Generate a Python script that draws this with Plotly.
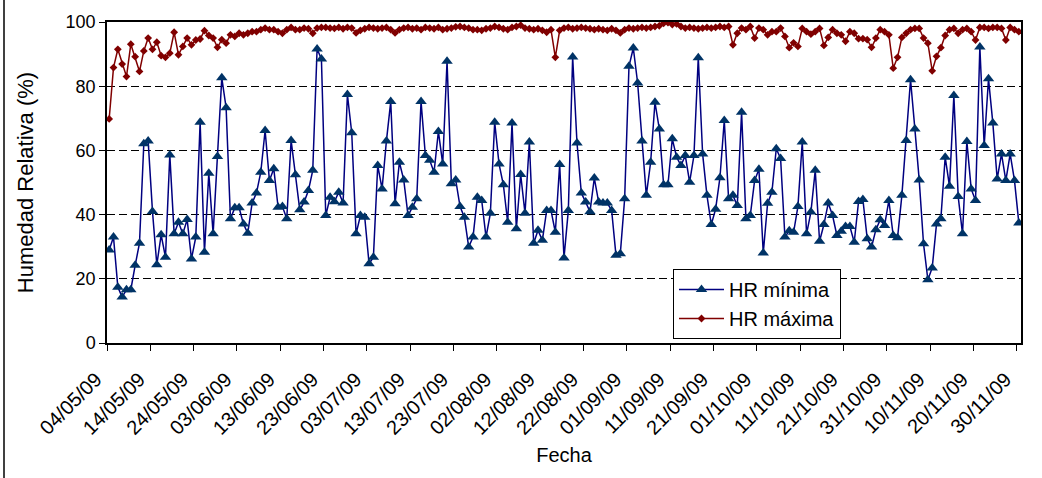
import pandas as pd
import plotly.graph_objects as go

start_date = "2009-05-04"
n_days = 211

hr_min = [
    29.0, 33.0, 17.4, 14.3, 16.6, 16.6, 24.2, 31.1, 62.1, 62.9,
    41.0, 24.4, 33.7, 26.7, 58.6, 34.0, 37.6, 34.0, 38.5, 26.2,
    33.0, 68.8, 28.3, 52.9, 34.0, 58.1, 82.6, 73.3, 38.7, 42.1,
    42.1, 37.1, 34.2, 43.6, 46.7, 53.2, 66.2, 50.6, 54.3, 42.3,
    42.5, 38.7, 63.1, 52.4, 41.5, 43.9, 47.5, 53.8, 91.6, 88.5,
    39.7, 45.4, 44.0, 47.0, 43.6, 77.4, 65.5, 34.0, 39.7, 39.2,
    24.7, 26.7, 55.3, 48.0, 62.9, 75.2, 43.4, 56.3, 50.8, 39.7,
    42.3, 44.9, 75.2, 58.4, 56.9, 53.2, 65.9, 55.8, 87.8, 49.6,
    50.8, 42.5, 39.2, 29.9, 33.0, 45.4, 44.4, 33.0, 40.4, 68.8,
    55.8, 49.3, 37.6, 68.5, 35.6, 52.5, 40.4, 62.6, 31.1, 35.1,
    32.0, 41.3, 41.3, 34.5, 55.6, 26.5, 41.3, 89.1, 62.3, 46.7,
    43.9, 40.9, 51.4, 43.9, 43.6, 43.6, 41.3, 27.3, 27.8, 44.9,
    86.2, 91.9, 81.0, 62.9, 46.0, 56.3, 75.0, 66.7, 49.3, 49.3,
    63.6, 57.9, 55.3, 58.4, 50.1, 58.4, 88.9, 58.9, 46.0, 36.9,
    41.7, 51.5, 69.3, 44.9, 46.0, 42.8, 71.9, 38.7, 39.7, 50.6,
    54.1, 28.0, 43.5, 47.0, 60.5, 57.5, 33.0, 35.0, 34.5, 42.5,
    62.6, 34.0, 40.8, 53.8, 31.7, 36.9, 43.6, 39.7, 33.5, 34.8,
    36.3, 36.3, 31.4, 44.1, 44.7, 32.5, 29.9, 35.3, 38.4, 36.6,
    44.4, 33.5, 32.8, 46.0, 63.1, 82.0, 66.7, 50.8, 30.9, 19.7,
    23.4, 37.1, 38.7, 57.9, 48.8, 77.1, 45.6, 34.0, 62.8, 48.0,
    44.4, 92.2, 61.5, 82.3, 68.5, 51.1, 58.9, 50.6, 58.9, 50.6, 37.4,
]

hr_max = [
    69.8, 85.8, 91.5, 86.9, 83.0, 93.1, 89.2, 84.6, 91.0, 95.0,
    91.5, 93.7, 89.5, 89.0, 90.3, 96.8, 89.8, 92.4, 95.0, 92.9,
    94.4, 94.7, 97.3, 95.8, 95.0, 92.1, 94.5, 93.4, 96.0, 95.5,
    96.5, 96.0, 96.5, 97.0, 97.0, 97.6, 98.1, 97.6, 97.6, 97.0,
    96.5, 97.6, 98.3, 97.6, 97.6, 98.1, 97.9, 96.5, 98.1, 98.3,
    98.3, 98.1, 98.0, 98.3, 97.9, 98.3, 98.1, 96.6, 97.4, 97.9,
    98.3, 98.1, 97.9, 98.1, 98.3, 97.6, 96.6, 97.6, 98.1, 98.3,
    97.9, 98.1, 97.6, 98.3, 98.1, 97.9, 98.3, 97.6, 97.9, 98.1,
    98.5, 98.6, 98.3, 98.1, 97.6, 97.6, 97.4, 97.9, 98.1, 98.6,
    98.3, 97.9, 97.6, 98.3, 98.6, 99.0, 98.1, 97.9, 97.6, 97.9,
    97.4, 96.8, 97.6, 89.0, 97.4, 98.1, 98.3, 97.9, 98.1, 98.3,
    98.1, 97.9, 97.6, 97.9, 97.6, 97.4, 97.9, 97.4, 96.6, 97.6,
    98.1, 97.9, 98.1, 98.3, 98.1, 98.3, 98.6, 98.8, 99.6, 99.8,
    99.2, 99.4, 98.6, 98.1, 98.3, 98.1, 97.9, 98.1, 98.3, 98.1,
    98.3, 98.6, 98.3, 98.6, 92.9, 96.5, 98.1, 97.6, 98.6, 95.0,
    98.1, 97.6, 96.0, 97.0, 97.0, 98.1, 95.5, 92.0, 93.5, 92.4,
    98.0, 97.0, 96.2, 97.0, 98.0, 92.7, 95.2, 97.6, 96.5, 96.0,
    94.0, 97.0, 96.5, 94.8, 94.8, 94.5, 92.1, 95.0, 97.6, 97.0,
    96.0, 85.6, 89.0, 95.2, 96.5, 97.6, 98.0, 98.0, 95.0, 93.4,
    84.8, 89.3, 92.0, 95.8, 97.6, 98.0, 96.5, 97.6, 98.0, 97.0,
    94.4, 98.3, 98.3, 98.0, 98.3, 98.3, 98.0, 94.4, 98.3, 97.6, 97.0,
]

series_names = ["HR mínima", "HR máxima"]
x_title = "Fecha"
y_title = "Humedad Relativa (%)"

# points sit in the middle of each day (Excel date axis "between tick marks")
dates = pd.date_range(start_date + " 12:00", periods=n_days, freq="D")
x_end = pd.Timestamp(start_date) + pd.Timedelta(days=n_days)

FONT = "Arial, 'Liberation Sans', sans-serif"

fig = go.Figure()
fig.add_trace(go.Scatter(
    x=dates, y=hr_min, name=series_names[0], mode="lines+markers",
    line=dict(color="#000080", width=1.5),
    marker=dict(symbol="triangle-up", size=10, color="#003366"),
))
fig.add_trace(go.Scatter(
    x=dates, y=hr_max, name=series_names[1], mode="lines+markers",
    line=dict(color="#800000", width=1.5),
    marker=dict(symbol="diamond", size=6, color="#800000"),
))

L, R, T, B = 107, 21, 22, 135
W, H = 1042, 478
PW, PH = W - L - R, H - T - B

fig.update_layout(
    width=W, height=H,
    margin=dict(l=L, r=R, t=T, b=B),
    paper_bgcolor="white", plot_bgcolor="white",
    font=dict(family=FONT, color="black", size=18),
    showlegend=True,
    legend=dict(
        x=(673 - L) / PW, y=(H - B - 269) / PH,
        xanchor="left", yanchor="top",
        bgcolor="white", bordercolor="black", borderwidth=1,
        font=dict(size=20, family=FONT), itemwidth=45,
        tracegroupgap=0,
    ),
    xaxis=dict(
        type="date", automargin=False,
        range=[pd.Timestamp(start_date), x_end],
        tick0=start_date, dtick=10 * 86400000,
        tickformat="%d/%m/%y", tickangle=-45,
        ticks="outside", ticklen=6, tickcolor="black",
        ticklabelstandoff=9, ticklabelshift=-11,
        showline=True, linecolor="black", linewidth=1.5, mirror=True,
        showgrid=False, zeroline=False,
        tickfont=dict(size=20),
        title=dict(text=x_title, font=dict(size=20), standoff=10),
    ),
    yaxis=dict(
        range=[0, 100], dtick=20, automargin=False,
        ticks="outside", ticklen=6, tickcolor="black",
        showline=True, linecolor="black", linewidth=1.5, mirror=True,
        showgrid=True, gridcolor="black", gridwidth=1, griddash="8px,4px",
        zeroline=False,
        tickfont=dict(size=18),
        title=dict(text=y_title, font=dict(size=22), standoff=26),
    ),
    shapes=[dict(type="line", xref="paper", yref="paper",
                 x0=-(L - 4) / PW, x1=-(L - 4) / PW,
                 y0=-B / PH, y1=1 + T / PH,
                 line=dict(color="black", width=1.5))],
)

fig.write_html(
    "out.html",
    config={"displayModeBar": False},
    post_script="document.body.style.margin='0';document.body.style.overflow='hidden';",
)
